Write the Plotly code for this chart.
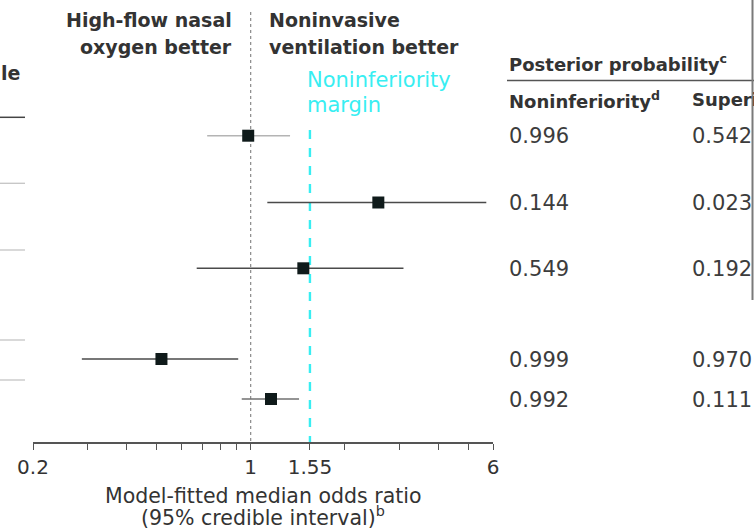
import plotly.graph_objects as go

# ---- data ----
subgroups = ["Row 1", "Row 2", "Row 3", "Row 4", "Row 5"]
odds_ratio = [0.982, 2.57, 1.476, 0.517, 1.162]
ci_low = [0.725, 1.131, 0.671, 0.287, 0.936]
ci_high = [1.338, 5.71, 3.095, 0.912, 1.43]
p_noninferiority = ["0.996", "0.144", "0.549", "0.999", "0.992"]
p_superiority = ["0.542", "0.023", "0.192", "0.970", "0.111"]
noninferiority_margin = 1.55
null_value = 1
tick_values = [0.2, 0.3, 0.4, 0.5, 0.6, 0.7, 0.8, 0.9, 1, 1.55, 2, 3, 4, 5, 6]
tick_labels = ["0.2", "", "", "", "", "", "", "", "1", "1.55", "", "", "", "", "6"]

# ---- layout helpers (positions / styles) ----
W, H = 754, 530
L, R = 33, 261
PLOT_BOTTOM = 442
row_y = [135.7, 202.5, 268.3, 359, 399]
ci_colors = ["#b4b4b4", "#4a4a4a", "#4a4a4a", "#4a4a4a", "#707070"]
FONT = "DejaVu Sans"
TXT = "#333333"
CYAN = "#38eef2"


def px(xp):
    return (xp - L) / (W - L - R)


def py(yp):
    return (PLOT_BOTTOM - yp) / PLOT_BOTTOM


fig = go.Figure()

# reference line at 1 (dotted)
fig.add_trace(go.Scatter(x=[null_value, null_value], y=[12, PLOT_BOTTOM], mode="lines",
                         line=dict(color="#8a8a8a", width=1.2, dash="dot"),
                         hoverinfo="skip", showlegend=False))
# noninferiority margin (dashed cyan)
fig.add_trace(go.Scatter(x=[noninferiority_margin, noninferiority_margin], y=[130, PLOT_BOTTOM],
                         mode="lines", line=dict(color=CYAN, width=2.4, dash="dash"),
                         hoverinfo="skip", showlegend=False))

# credible intervals
for lo, hi, yy, c in zip(ci_low, ci_high, row_y, ci_colors):
    fig.add_trace(go.Scatter(x=[lo, hi], y=[yy, yy], mode="lines",
                             line=dict(color=c, width=1.6),
                             hoverinfo="skip", showlegend=False))

# point estimates
fig.add_trace(go.Scatter(x=odds_ratio, y=row_y, mode="markers",
                         marker=dict(symbol="square", size=12, color="#0f1a1a"),
                         text=subgroups, showlegend=False))

annotations = []


def txt(x, y, s, size=20, bold=False, color=TXT, xanchor="left"):
    annotations.append(dict(x=x, y=py(y), xref="paper", yref="paper", text=s, showarrow=False,
                            xanchor=xanchor, yanchor="middle",
                            font=dict(family=FONT, size=size, color=color,
                                      weight="bold" if bold else "normal"),
                            align="left" if xanchor == "left" else ("right" if xanchor == "right" else "center")))


# direction labels
txt(px(234), 20, "High-flow nasal", size=19, bold=True, xanchor="right")
txt(px(234), 47, "oxygen better", size=19, bold=True, xanchor="right")
txt(px(267), 20, "Noninvasive", size=19, bold=True)
txt(px(267), 47, "ventilation better", size=19, bold=True)
txt(px(305), 80, "Noninferiority", size=21, color=CYAN)
txt(px(305), 105, "margin", size=21, color=CYAN)
# cropped left table header fragment
txt(px(-1), 73, "le", size=19, bold=True)

# right-hand table
txt(px(507), 63, "Posterior probability<sup>c</sup>", size=18, bold=True)
txt(px(507), 100, "Noninferiority<sup>d</sup>", size=18, bold=True)
txt(px(690), 100, "Superiority", size=18, bold=True)
for yy, a, b in zip(row_y, p_noninferiority, p_superiority):
    txt(px(507), yy + 0.5, a, size=21, color="#3c3c3c")
    txt(px(690), yy + 0.5, b, size=21, color="#3c3c3c")

# x axis title
txt(0.5, 496, "Model-fitted median odds ratio", size=20.5, xanchor="center")
txt(0.5, 516, "(95% credible interval)<sup>b</sup>", size=20.5, xanchor="center")

shapes = [
    # header rule of right table
    dict(type="line", xref="paper", yref="paper", x0=px(507), x1=px(760), y0=py(80.5), y1=py(80.5),
         line=dict(color="#555555", width=1.5)),
    # right panel border
    dict(type="line", xref="paper", yref="paper", x0=px(752.5), x1=px(752.5), y0=py(-5), y1=py(300),
         line=dict(color="#7a7a7a", width=2)),
    # left table row rules (cropped)
    dict(type="line", xref="paper", yref="paper", x0=px(-2), x1=px(25), y0=py(117.3), y1=py(117.3),
         line=dict(color="#444444", width=1.5)),
]
for yy in [183.3, 250, 340, 380]:
    shapes.append(dict(type="line", xref="paper", yref="paper", x0=px(-2), x1=px(25),
                       y0=py(yy), y1=py(yy), line=dict(color="#c4c4c4", width=1.3)))

fig.update_layout(
    width=W, height=H,
    margin=dict(l=L, r=R, t=0, b=H - PLOT_BOTTOM, pad=0),
    paper_bgcolor="white", plot_bgcolor="white",
    showlegend=False,
    annotations=annotations,
    shapes=shapes,
    xaxis=dict(type="log", range=[-0.69897, 0.778151], tickvals=tick_values, ticktext=tick_labels,
               ticks="outside", ticklen=6, tickwidth=1.3, tickcolor="#555555",
               showline=True, linecolor="#555555", linewidth=1.5,
               showgrid=False, zeroline=False,
               tickfont=dict(family=FONT, size=20, color=TXT)),
    yaxis=dict(range=[PLOT_BOTTOM, 0], visible=False, showgrid=False, zeroline=False),
)

fig.write_html("out.html", config={"displayModeBar": False},
               post_script="document.body.style.margin='0px';document.body.style.overflow='hidden';")
